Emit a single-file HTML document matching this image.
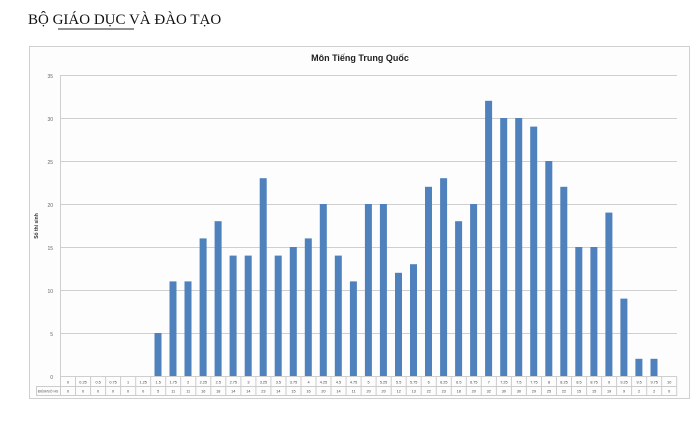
<!DOCTYPE html>
<html><head><meta charset="utf-8"><style>
body{margin:0;background:#fff;width:700px;height:419px;overflow:hidden}
</style></head><body>
<svg width="700" height="419" xmlns="http://www.w3.org/2000/svg" font-family="Liberation Sans, sans-serif">
<text x="28" y="24" font-family="Liberation Serif, serif" font-size="15" fill="#111">BỘ GIÁO DỤC VÀ ĐÀO TẠO</text>
<line x1="58" y1="29" x2="134" y2="29" stroke="#222" stroke-width="1"/>
<rect x="29.5" y="46.5" width="660" height="352" fill="#fdfdfd" stroke="#d0d0d0"/>
<text x="360" y="61" text-anchor="middle" font-size="9" font-weight="bold" fill="#222">Môn Tiếng Trung Quốc</text>
<g stroke="#cfcfcf" stroke-width="1">
<line x1="61" y1="75.5" x2="677" y2="75.5"/>
<line x1="61" y1="118.5" x2="677" y2="118.5"/>
<line x1="61" y1="161.5" x2="677" y2="161.5"/>
<line x1="61" y1="204.5" x2="677" y2="204.5"/>
<line x1="61" y1="247.5" x2="677" y2="247.5"/>
<line x1="61" y1="290.5" x2="677" y2="290.5"/>
<line x1="61" y1="333.5" x2="677" y2="333.5"/>
<line x1="61" y1="376.5" x2="677" y2="376.5"/>
<line x1="60.5" y1="75" x2="60.5" y2="377"/>
</g>
<g font-size="5" fill="#666" text-anchor="end">
<text x="53" y="78">35</text><text x="53" y="121">30</text><text x="53" y="164">25</text><text x="53" y="207">20</text>
<text x="53" y="250">15</text><text x="53" y="293">10</text><text x="53" y="336">5</text><text x="53" y="379">0</text>
</g>
<text transform="translate(38,226) rotate(-90)" text-anchor="middle" font-size="5" font-weight="bold" fill="#333">Số thí sinh</text>
<g fill="#4f81bd">
<rect x="154.5" y="333" width="7" height="43"/>
<rect x="169.5" y="281.4" width="7" height="94.6"/>
<rect x="184.5" y="281.4" width="7" height="94.6"/>
<rect x="199.6" y="238.4" width="7" height="137.6"/>
<rect x="214.6" y="221.2" width="7" height="154.8"/>
<rect x="229.6" y="255.6" width="7" height="120.4"/>
<rect x="244.7" y="255.6" width="7" height="120.4"/>
<rect x="259.7" y="178.2" width="7" height="197.8"/>
<rect x="274.7" y="255.6" width="7" height="120.4"/>
<rect x="289.8" y="247" width="7" height="129"/>
<rect x="304.8" y="238.4" width="7" height="137.6"/>
<rect x="319.8" y="204" width="7" height="172"/>
<rect x="334.8" y="255.6" width="7" height="120.4"/>
<rect x="349.9" y="281.4" width="7" height="94.6"/>
<rect x="364.9" y="204" width="7" height="172"/>
<rect x="379.9" y="204" width="7" height="172"/>
<rect x="395.0" y="272.8" width="7" height="103.2"/>
<rect x="410.0" y="264.2" width="7" height="111.8"/>
<rect x="425.0" y="186.8" width="7" height="189.2"/>
<rect x="440.1" y="178.2" width="7" height="197.8"/>
<rect x="455.1" y="221.2" width="7" height="154.8"/>
<rect x="470.1" y="204" width="7" height="172"/>
<rect x="485.1" y="100.8" width="7" height="275.2"/>
<rect x="500.2" y="118" width="7" height="258"/>
<rect x="515.2" y="118" width="7" height="258"/>
<rect x="530.2" y="126.6" width="7" height="249.4"/>
<rect x="545.3" y="161" width="7" height="215"/>
<rect x="560.3" y="186.8" width="7" height="189.2"/>
<rect x="575.3" y="247" width="7" height="129"/>
<rect x="590.4" y="247" width="7" height="129"/>
<rect x="605.4" y="212.6" width="7" height="163.4"/>
<rect x="620.4" y="298.6" width="7" height="77.4"/>
<rect x="635.4" y="358.8" width="7" height="17.2"/>
<rect x="650.5" y="358.8" width="7" height="17.2"/>
</g>
<g stroke="#ccc" stroke-width="1" fill="none">
<line x1="36" y1="386.5" x2="676.7" y2="386.5"/>
<line x1="36" y1="395.5" x2="676.7" y2="395.5"/>
<line x1="36.5" y1="386" x2="36.5" y2="396"/>
<path d="M60.5 377V396M75.5 377V396M90.6 377V396M105.6 377V396M120.6 377V396M135.7 377V396M150.7 377V396M165.7 377V396M180.7 377V396M195.8 377V396M210.8 377V396M225.8 377V396M240.9 377V396M255.9 377V396M270.9 377V396M286 377V396M301 377V396M316 377V396M331 377V396M346.1 377V396M361.1 377V396M376.1 377V396M391.2 377V396M406.2 377V396M421.2 377V396M436.3 377V396M451.3 377V396M466.3 377V396M481.3 377V396M496.4 377V396M511.4 377V396M526.4 377V396M541.5 377V396M556.5 377V396M571.5 377V396M586.6 377V396M601.6 377V396M616.6 377V396M631.6 377V396M646.7 377V396M661.7 377V396M676.7 377V396"/>
</g>
<text x="48" y="392.5" font-size="3.5" fill="#555" text-anchor="middle">ĐIỂM/SỐ HS</text>
<g font-size="3.8" fill="#444" text-anchor="middle">
<text x="68" y="383.5">0</text><text x="83" y="383.5">0.25</text><text x="98.1" y="383.5">0.5</text><text x="113.1" y="383.5">0.75</text><text x="128.1" y="383.5">1</text><text x="143.2" y="383.5">1.25</text><text x="158.2" y="383.5">1.5</text><text x="173.2" y="383.5">1.75</text><text x="188.2" y="383.5">2</text><text x="203.3" y="383.5">2.25</text><text x="218.3" y="383.5">2.5</text><text x="233.3" y="383.5">2.75</text><text x="248.4" y="383.5">3</text><text x="263.4" y="383.5">3.25</text><text x="278.4" y="383.5">3.5</text><text x="293.5" y="383.5">3.75</text><text x="308.5" y="383.5">4</text><text x="323.5" y="383.5">4.25</text><text x="338.5" y="383.5">4.5</text><text x="353.6" y="383.5">4.75</text><text x="368.6" y="383.5">5</text><text x="383.6" y="383.5">5.25</text><text x="398.7" y="383.5">5.5</text><text x="413.7" y="383.5">5.75</text><text x="428.7" y="383.5">6</text><text x="443.8" y="383.5">6.25</text><text x="458.8" y="383.5">6.5</text><text x="473.8" y="383.5">6.75</text><text x="488.8" y="383.5">7</text><text x="503.9" y="383.5">7.25</text><text x="518.9" y="383.5">7.5</text><text x="533.9" y="383.5">7.75</text><text x="549" y="383.5">8</text><text x="564" y="383.5">8.25</text><text x="579" y="383.5">8.5</text><text x="594.1" y="383.5">8.75</text><text x="609.1" y="383.5">9</text><text x="624.1" y="383.5">9.25</text><text x="639.1" y="383.5">9.5</text><text x="654.2" y="383.5">9.75</text><text x="669.2" y="383.5">10</text>
<text x="68" y="392.5">0</text><text x="83" y="392.5">0</text><text x="98.1" y="392.5">0</text><text x="113.1" y="392.5">0</text><text x="128.1" y="392.5">0</text><text x="143.2" y="392.5">0</text><text x="158.2" y="392.5">5</text><text x="173.2" y="392.5">11</text><text x="188.2" y="392.5">11</text><text x="203.3" y="392.5">16</text><text x="218.3" y="392.5">18</text><text x="233.3" y="392.5">14</text><text x="248.4" y="392.5">14</text><text x="263.4" y="392.5">23</text><text x="278.4" y="392.5">14</text><text x="293.5" y="392.5">15</text><text x="308.5" y="392.5">16</text><text x="323.5" y="392.5">20</text><text x="338.5" y="392.5">14</text><text x="353.6" y="392.5">11</text><text x="368.6" y="392.5">20</text><text x="383.6" y="392.5">20</text><text x="398.7" y="392.5">12</text><text x="413.7" y="392.5">13</text><text x="428.7" y="392.5">22</text><text x="443.8" y="392.5">23</text><text x="458.8" y="392.5">18</text><text x="473.8" y="392.5">20</text><text x="488.8" y="392.5">32</text><text x="503.9" y="392.5">30</text><text x="518.9" y="392.5">30</text><text x="533.9" y="392.5">29</text><text x="549" y="392.5">25</text><text x="564" y="392.5">22</text><text x="579" y="392.5">15</text><text x="594.1" y="392.5">15</text><text x="609.1" y="392.5">19</text><text x="624.1" y="392.5">9</text><text x="639.1" y="392.5">2</text><text x="654.2" y="392.5">2</text><text x="669.2" y="392.5">0</text>
</g>
</svg>
</body></html>
